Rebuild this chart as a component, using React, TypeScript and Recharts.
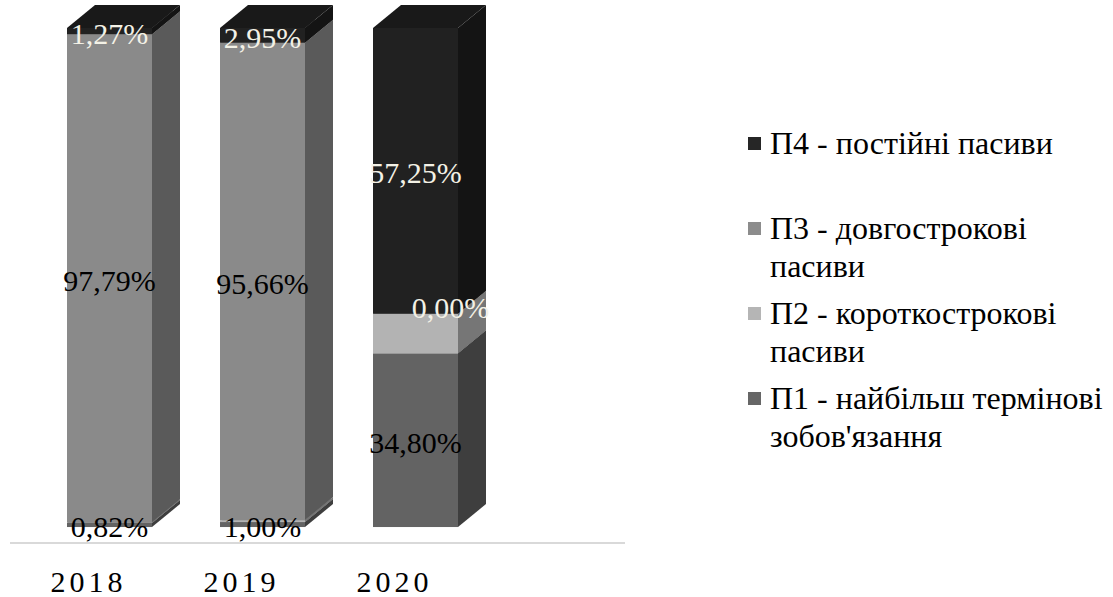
import { Bar, BarChart, LabelList, Legend, XAxis, YAxis } from "recharts";

const years = ["2018", "2019", "2020"];
const p1 = [0.82, 1.0, 34.8];
const p2 = [0.12, 0.39, 7.95];
const p3 = [97.79, 95.66, 0.0];
const p4 = [1.27, 2.95, 57.25];

const names = {
  p1: "П1 - найбільш термінові зобов'язання",
  p2: "П2 - короткострокові пасиви",
  p3: "П3 - довгострокові пасиви",
  p4: "П4 - постійні пасиви",
};

const data = years.map((year, i) => ({ year, p1: p1[i], p2: p2[i], p3: p3[i], p4: p4[i] }));

type Key = "p1" | "p2" | "p3" | "p4";

const FONT = "Liberation Serif";
const LIGHT = "#f3f1e6";

// front / side / top shades of each stacked block
const faces: Record<Key, { front: string; side: string; top: string; key: string; label: string }> = {
  p1: { front: "#636363", side: "#3e3e3e", top: "#555555", key: "#666666", label: "#000" },
  p2: { front: "#b3b3b3", side: "#767676", top: "#9c9c9c", key: "#b5b5b5", label: "#000" },
  p3: { front: "#8a8a8a", side: "#5a5a5a", top: "#747474", key: "#8c8c8c", label: "#000" },
  p4: { front: "#212121", side: "#141414", top: "#191919", key: "#262626", label: LIGHT },
};

const DEPTH_X = 28;
const DEPTH_Y = -23;

function Block(props: any) {
  const { x, y, width, height, c } = props;
  if (x == null || y == null || !width) return null;
  const h = Math.max(height || 0, 0);
  const r = x + width;
  return (
    <g>
      <rect x={x} y={y} width={width} height={h} fill={c.front} />
      <polygon
        points={`${r},${y + h} ${r + DEPTH_X},${y + h + DEPTH_Y} ${r + DEPTH_X},${y + DEPTH_Y} ${r},${y}`}
        fill={c.side}
      />
      <polygon
        points={`${x},${y} ${r},${y} ${r + DEPTH_X},${y + DEPTH_Y} ${x + DEPTH_X},${y + DEPTH_Y}`}
        fill={c.top}
      />
    </g>
  );
}

function pct(v: number) {
  return v.toFixed(2).replace(".", ",") + "%";
}

function SegLabel(props: any) {
  const vb = props.viewBox ?? props;
  const { x, y, width, height } = vb;
  const value = Number(props.value);
  if (x == null) return null;
  const zero = value === 0;
  return (
    <text
      x={x + width / 2 + (zero ? 35 : 0)}
      y={zero ? y - 6 : y + height / 2 + 2}
      textAnchor="middle"
      dominantBaseline="central"
      fontFamily={FONT}
      fontSize={30}
      fill={zero ? LIGHT : props.color}
    >
      {pct(value)}
    </text>
  );
}

function YearTick({ x, y, payload }: any) {
  return (
    <text
      x={x - 21}
      y={y + 49}
      textAnchor="middle"
      fontFamily={FONT}
      fontSize={30}
      letterSpacing={4}
      fill="#000"
    >
      {payload.value}
    </text>
  );
}

const legendOrder: Key[] = ["p4", "p3", "p2", "p1"];

function LegendBox() {
  return (
    <div style={{ fontFamily: FONT, fontSize: 32, lineHeight: "38px", color: "#000" }}>
      {legendOrder.map((k) => (
        <div key={k} style={{ display: "flex", height: 85 }}>
          <span
            style={{
              flex: "none",
              width: 13,
              height: 13,
              marginTop: 13,
              marginRight: 9,
              background: faces[k].key,
            }}
          />
          <div style={{ width: 345 }}>{names[k]}</div>
        </div>
      ))}
    </div>
  );
}

export default function App() {
  const keys: Key[] = ["p1", "p2", "p3", "p4"];
  return (
    <div style={{ position: "absolute", left: 0, top: 0, background: "#fff", fontFamily: FONT }}>
      <BarChart
        width={1113}
        height={597}
        data={data}
        margin={{ top: 28, right: 488, bottom: 0, left: 10 }}
        barSize={85}
      >
        <XAxis
          dataKey="year"
          height={54}
          padding={{ left: 23, right: 133 }}
          axisLine={{ stroke: "#d9d9d9", strokeWidth: 2 }}
          tickLine={false}
          tickSize={0}
          tickMargin={0}
          tick={<YearTick />}
        />
        <YAxis hide type="number" domain={[-3.2, 100]} />
        <Legend
          layout="vertical"
          align="center"
          verticalAlign="middle"
          content={<LegendBox />}
          wrapperStyle={{ left: 748, top: 124, width: 365 }}
        />
        {keys.map((k) => (
          <Bar
            key={k}
            dataKey={k}
            name={names[k]}
            stackId="a"
            fill={faces[k].front}
            isAnimationActive={false}
            shape={(p: any) => <Block {...p} c={faces[k]} />}
          >
            {k !== "p2" && (
              <LabelList dataKey={k} content={(p: any) => <SegLabel {...p} color={faces[k].label} />} />
            )}
          </Bar>
        ))}
      </BarChart>
    </div>
  );
}
